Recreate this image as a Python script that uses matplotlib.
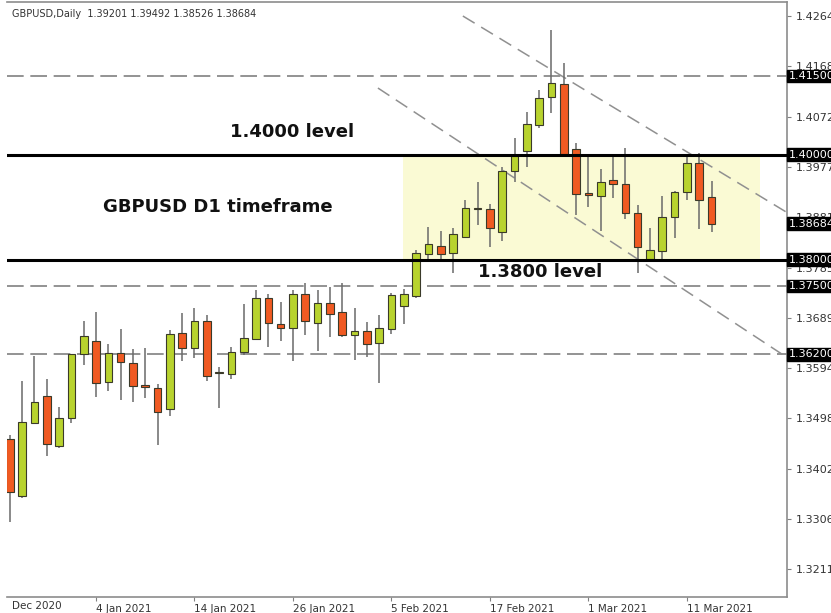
import matplotlib.pyplot as plt
from matplotlib.transforms import blended_transform_factory

# Datos: velas diarias GBPUSD (open, high, low, close)
opens = [1.34586, 1.3350, 1.34891, 1.35405, 1.34453, 1.34986, 1.36204, 1.36452,
         1.35671, 1.36224, 1.36033, 1.3561, 1.35557, 1.35157, 1.36604, 1.36319,
         1.36833, 1.3586, 1.35824, 1.36243, 1.3649, 1.37271, 1.36776, 1.367,
         1.37347, 1.36795, 1.37176, 1.37004, 1.36566, 1.36642, 1.36414, 1.3668,
         1.37118, 1.37309, 1.38108, 1.38261, 1.38128, 1.38432, 1.3899, 1.38965,
         1.38527, 1.39689, 1.4007, 1.40565, 1.41098, 1.41345, 1.40108, 1.3927,
         1.39213, 1.39517, 1.39441, 1.38889, 1.38013, 1.38166, 1.38813, 1.39289,
         1.39841, 1.39201]
highs = [1.34662, 1.3569, 1.36166, 1.35728, 1.35195, 1.36204, 1.36833, 1.37004,
         1.36395, 1.3668, 1.363, 1.36319, 1.35633, 1.36661, 1.36985, 1.3708,
         1.36947, 1.35957, 1.36338, 1.37156, 1.37423, 1.37347, 1.37195, 1.37423,
         1.37556, 1.37423, 1.3749, 1.37556, 1.3708, 1.36814, 1.36947, 1.37366,
         1.37442, 1.38185, 1.38623, 1.38546, 1.38604, 1.39137, 1.39479, 1.3906,
         1.39765, 1.40317, 1.40812, 1.41231, 1.42373, 1.41745, 1.40222, 1.39974,
         1.39727, 1.40012, 1.40127, 1.39041, 1.38604, 1.39213, 1.39308, 1.39955,
         1.40032, 1.39492]
lows = [1.33006, 1.3346, 1.3487, 1.34262, 1.34415, 1.34891, 1.35995, 1.35386,
        1.3550, 1.35329, 1.35291, 1.35367, 1.34472, 1.35024, 1.36071, 1.36128,
        1.3569, 1.35176, 1.35728, 1.36185, 1.3647, 1.36338, 1.36452, 1.36071,
        1.36566, 1.36262, 1.36528, 1.3653, 1.3609, 1.36147, 1.35652, 1.36585,
        1.36776, 1.3727, 1.38013, 1.38013, 1.37747, 1.3841, 1.38661, 1.38242,
        1.38356, 1.39479, 1.39765, 1.40508, 1.40793, 1.39993, 1.38851, 1.39003,
        1.38546, 1.39175, 1.38775, 1.37747, 1.3800, 1.38013, 1.38413, 1.39137,
        1.38584, 1.38526]
closes = [1.33577, 1.3491, 1.35291, 1.34491, 1.34986, 1.3620, 1.36547, 1.35652,
          1.36224, 1.36052, 1.35595, 1.3558, 1.351, 1.36585, 1.36319, 1.36833,
          1.35786, 1.35843, 1.36243, 1.36509, 1.37271, 1.36795, 1.367, 1.37347,
          1.36833, 1.37176, 1.36966, 1.36566, 1.36642, 1.36395, 1.367, 1.37328,
          1.37347, 1.38128, 1.38299, 1.38108, 1.38489, 1.38984, 1.3897, 1.38604,
          1.39689, 1.39974, 1.40584, 1.41079, 1.41364, 1.40012, 1.39251, 1.3923,
          1.39479, 1.39441, 1.38889, 1.38242, 1.38185, 1.38813, 1.39289, 1.39841,
          1.39137, 1.38684]

# Etiquetas del eje X (indice de vela)
date_ticks = [7, 15, 23, 31, 39, 47, 55]
date_labels = ['4 Jan 2021', '14 Jan 2021', '26 Jan 2021', '5 Feb 2021',
               '17 Feb 2021', '1 Mar 2021', '11 Mar 2021']

# Escala de precios del eje Y
price_ticks = [1.42640, 1.41680, 1.40720, 1.39770, 1.38810, 1.37850,
               1.36890, 1.35940, 1.34980, 1.34020, 1.33060, 1.32110]

# Niveles
solid_levels = [1.4000, 1.3800]
dashed_levels = [1.4150, 1.3750, 1.3620]
box_levels = [1.41500, 1.40000, 1.38684, 1.38000, 1.37500, 1.36200]

# Canal bajista (inicio, fin)
upper_channel = [(36.8, 63.2), (1.42640, 1.38889)]
lower_channel = [(29.9, 63.2), (1.41269, 1.36128)]

# Zona de rango
zone_x = (31.9, 60.9)
zone_y = (1.3800, 1.4000)

green = '#b8d32e'
red = '#f05a22'
edge = '#3a3a2a'

fig = plt.figure(figsize=(8.31, 6.13), dpi=100)
ax = fig.add_axes([7 / 831, 1 - 597 / 613, (787 - 7) / 831, 595 / 613])

ax.fill_between(zone_x, zone_y[0], zone_y[1], color='#fafad4', zorder=0, lw=0)

for lvl in dashed_levels:
    ax.axhline(lvl, color='#808080', lw=1.2, dashes=(10, 4), zorder=1)
for lvl in solid_levels:
    ax.axhline(lvl, color='black', lw=2.2, zorder=4)

ax.plot(*upper_channel, color='#909090', lw=1.1, dashes=(9, 5), zorder=1)
ax.plot(*lower_channel, color='#909090', lw=1.1, dashes=(9, 5), zorder=1)

# Velas
w = 0.62
for i, (o, h, l, c) in enumerate(zip(opens, highs, lows, closes)):
    col = green if c >= o else red
    ax.vlines(i, l, h, color='#6a6a6a', lw=1.1, zorder=2)
    bottom = min(o, c)
    height = max(abs(c - o), 0.00008)
    ax.bar(i, height, bottom=bottom, width=w, color=col, edgecolor=edge,
           linewidth=0.8, zorder=3)

ax.set_xlim(-0.23, 63.13)
ax.set_ylim(1.31578, 1.42907)

ax.spines['left'].set_visible(False)
for s in ['top', 'right', 'bottom']:
    ax.spines[s].set_color('#8c8c8c')
    ax.spines[s].set_linewidth(1.2)

ax.yaxis.tick_right()
ax.set_yticks(price_ticks)
ax.set_yticklabels([f'{p:.5f}' for p in price_ticks])
ax.tick_params(axis='y', length=3, color='#808080', labelsize=8,
               labelcolor='#333333', pad=3)

ax.set_xticks(date_ticks)
ax.set_xticklabels(date_labels, ha='left')
ax.tick_params(axis='x', length=3, color='#808080', labelsize=7.5,
               labelcolor='#333333', pad=2)
ax.text(0.006, -0.0075, 'Dec 2020', transform=ax.transAxes, fontsize=7.5,
        color='#333333', ha='left', va='top')

# Etiquetas de precio en caja negra
trans = blended_transform_factory(ax.transAxes, ax.transData)
for lvl in box_levels:
    ax.text(1.002, lvl, f'{lvl:.5f}', transform=trans, fontsize=8, color='white',
            ha='left', va='center', clip_on=False, zorder=10,
            bbox=dict(boxstyle='square,pad=0.12', facecolor='black', edgecolor='black'))

# Titulo y anotaciones
ax.text(0.006, 0.988, 'GBPUSD,Daily  1.39201 1.39492 1.38526 1.38684',
        transform=ax.transAxes, fontsize=7, color='#333333', ha='left', va='top')
bold = dict(fontsize=13, fontweight='bold', family='DejaVu Sans', color='#111111',
            ha='center', va='center')
ax.text(22.9, 1.40431, '1.4000 level', **bold)
ax.text(16.9, 1.39003, 'GBPUSD D1 timeframe', **bold)
ax.text(43.1, 1.37766, '1.3800 level', **bold)

fig.savefig('out.png', dpi=100)
